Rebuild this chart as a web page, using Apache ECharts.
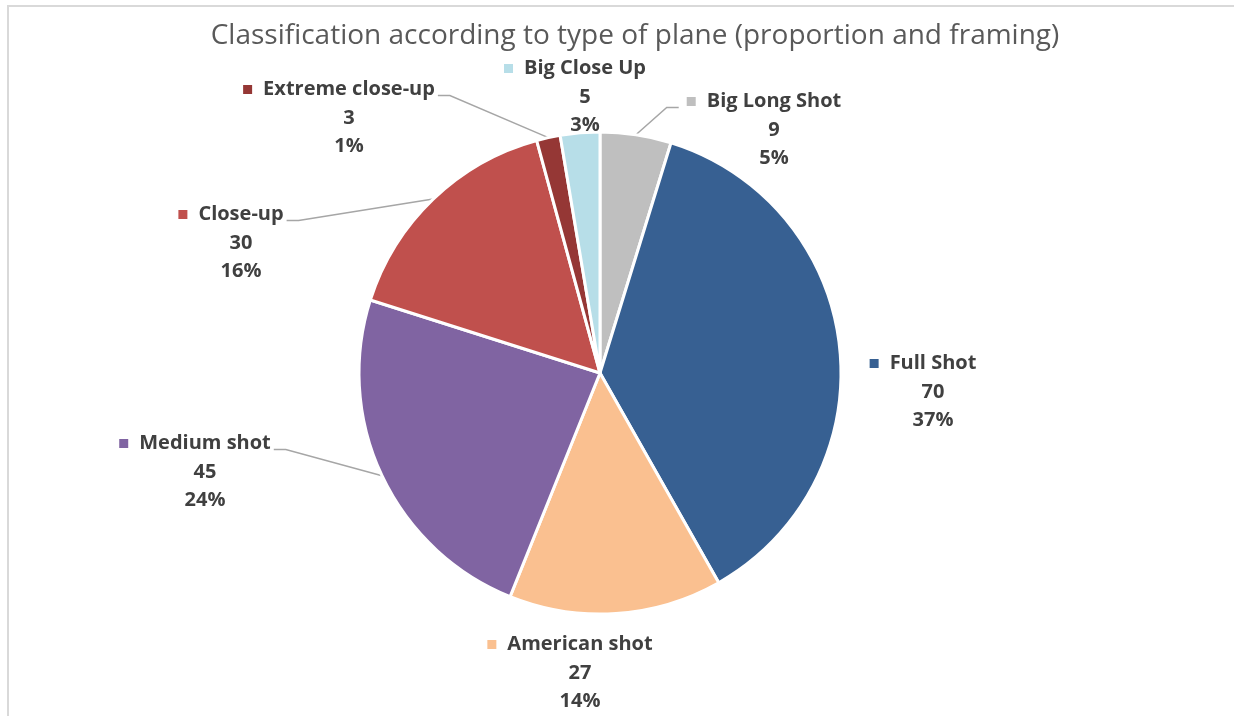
<!DOCTYPE html>
<html>
<head>
<meta charset="utf-8">
<title>Classification according to type of plane</title>
<script src="https://cdn.jsdelivr.net/npm/echarts@6/dist/echarts.min.js"></script>
<style>
  html, body { margin: 0; padding: 0; background: #fff; }
  #chart { width: 1234px; height: 716px; }
</style>
</head>
<body>
<div id="chart"></div>
<script>
// Shot types, clockwise from 12 o'clock
const categories = ['Big Long Shot', 'Full Shot', 'American shot', 'Medium shot', 'Close-up', 'Extreme close-up', 'Big Close Up'];
const counts = [9, 70, 27, 45, 30, 3, 5];
const percentLabels = ['5%', '37%', '14%', '24%', '16%', '1%', '3%'];

// Styling
const colors = ['#BFBFBF', '#376092', '#FAC090', '#8064A2', '#C0504D', '#953735', '#B7DEE8'];
// Label block centre (x of name text, y of the value line) and leader-line side
const labelPlace = [
  [774, 130, 'right'],
  [933, 392, null],
  [580, 673, null],
  [205, 472, 'left'],
  [241, 243, 'left'],
  [349, 118, 'left'],
  [585, 97, null]
];

const LINE_H = 28.5;
const MARK = 9, GAP = 11;

const rich = {
  n: { fontFamily: 'Open Sans', fontWeight: 'bold', fontSize: 20, color: '#404040', lineHeight: LINE_H },
  v: { fontFamily: 'Open Sans', fontWeight: 'bold', fontSize: 20, color: '#404040', lineHeight: LINE_H },
  g: { width: GAP, lineHeight: LINE_H },
  s: { width: MARK + GAP, lineHeight: LINE_H }
};
colors.forEach((c, i) => {
  rich['m' + i] = { width: MARK, height: MARK, backgroundColor: c, lineHeight: LINE_H };
});

const chart = echarts.init(document.getElementById('chart'), null, { renderer: 'canvas' });

chart.setOption({
  animation: false,
  backgroundColor: '#fff',
  title: {
    text: 'Classification according to type of plane (proportion and framing)',
    left: 630,
    textAlign: 'center',
    top: 13,
    textStyle: { fontFamily: 'Open Sans', fontWeight: 'normal', fontSize: 28, color: '#595959', lineHeight: 36 }
  },
  graphic: [
    { type: 'line', shape: { x1: 8, y1: 5, x2: 8, y2: 716 }, style: { stroke: '#D9D9D9', lineWidth: 2 }, silent: true },
    { type: 'line', shape: { x1: 7, y1: 6, x2: 1234, y2: 6 }, style: { stroke: '#D9D9D9', lineWidth: 2 }, silent: true }
  ],
  series: [{
    type: 'pie',
    center: [600, 373],
    radius: 241,
    startAngle: 90,
    clockwise: true,
    avoidLabelOverlap: false,
    data: categories.map((name, i) => ({
      name: name,
      value: counts[i],
      itemStyle: { color: colors[i] },
      labelLine: { show: labelPlace[i][2] !== null }
    })),
    itemStyle: { borderColor: '#ffffff', borderWidth: 3 },
    label: {
      show: true,
      position: 'outside',
      align: 'center',
      rich: rich,
      formatter: p => `{m${p.dataIndex}|}{g|}{n|${p.name}}{s|}\n{v|${p.value}}\n{v|${percentLabels[p.dataIndex]}}`
    },
    labelLine: {
      show: true,
      length: 10,
      length2: 10,
      lineStyle: { color: '#A6A6A6', width: 1.5 }
    },
    labelLayout: function (params) {
      const i = params.dataIndex;
      const [x, y, side] = labelPlace[i];
      const out = { x: x, y: y, align: 'center', verticalAlign: 'middle' };
      if (side && params.labelLinePoints) {
        const w = params.labelRect.width;
        const lineY = y - LINE_H + 6;
        const start = params.labelLinePoints[0];
        if (side === 'left') {
          const end = x + w / 2 - (MARK + GAP) + 3;
          out.labelLinePoints = [start, [end + 12, lineY], [end, lineY]];
        } else {
          const end = x - w / 2 - 8;
          out.labelLinePoints = [start, [end - 12, lineY], [end, lineY]];
        }
      }
      return out;
    }
  }]
});
</script>
</body>
</html>
